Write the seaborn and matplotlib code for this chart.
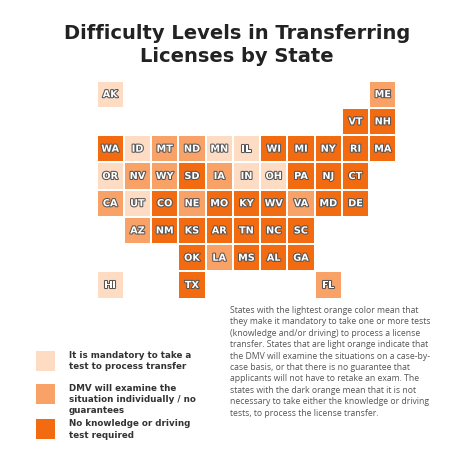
import numpy as np
import pandas as pd
import seaborn as sns
import matplotlib.pyplot as plt
import matplotlib.patheffects as pe
from matplotlib.colors import ListedColormap
from matplotlib.patches import Rectangle

# tile-grid map: state, row, col, difficulty (0 test required, 1 case by case, 2 no test)
states = ["AK", "ME", "VT", "NH",
          "WA", "ID", "MT", "ND", "MN", "IL", "WI", "MI", "NY", "RI", "MA",
          "OR", "NV", "WY", "SD", "IA", "IN", "OH", "PA", "NJ", "CT",
          "CA", "UT", "CO", "NE", "MO", "KY", "WV", "VA", "MD", "DE",
          "AZ", "NM", "KS", "AR", "TN", "NC", "SC",
          "OK", "LA", "MS", "AL", "GA",
          "HI", "TX", "FL"]
rows = [0, 0, 1, 1,
        2, 2, 2, 2, 2, 2, 2, 2, 2, 2, 2,
        3, 3, 3, 3, 3, 3, 3, 3, 3, 3,
        4, 4, 4, 4, 4, 4, 4, 4, 4, 4,
        5, 5, 5, 5, 5, 5, 5,
        6, 6, 6, 6, 6,
        7, 7, 7]
cols = [0, 10, 9, 10,
        0, 1, 2, 3, 4, 5, 6, 7, 8, 9, 10,
        0, 1, 2, 3, 4, 5, 6, 7, 8, 9,
        0, 1, 2, 3, 4, 5, 6, 7, 8, 9,
        1, 2, 3, 4, 5, 6, 7,
        3, 4, 5, 6, 7,
        0, 3, 8]
level = [0, 1, 2, 2,
         2, 0, 1, 1, 0, 0, 2, 2, 2, 2, 2,
         0, 1, 1, 2, 1, 0, 0, 2, 2, 2,
         1, 0, 2, 1, 2, 2, 2, 1, 2, 2,
         1, 2, 2, 2, 2, 2, 2,
         2, 1, 2, 2, 2,
         0, 2, 1]

legend_labels = ["It is mandatory to take a\ntest to process transfer",
                 "DMV will examine the\nsituation individually / no\nguarantees",
                 "No knowledge or driving\ntest required"]
colors = ["#fddcc3", "#f9a267", "#f26b10"]
note = ("States with the lightest orange color mean that\n"
        "they make it mandatory to take one or more tests\n"
        "(knowledge and/or driving) to process a license\n"
        "transfer. States that are light orange indicate that\n"
        "the DMV will examine the situations on a case-by-\n"
        "case basis, or that there is no guarantee that\n"
        "applicants will not have to retake an exam. The\n"
        "states with the dark orange mean that it is not\n"
        "necessary to take either the knowledge or driving\n"
        "tests, to process the license transfer.")

df = pd.DataFrame({"state": states, "row": rows, "col": cols, "level": level})
grid = df.pivot(index="row", columns="col", values="level")
labels = df.pivot(index="row", columns="col", values="state").fillna("")

fig = plt.figure(figsize=(4.74, 4.74), dpi=100)
fig.text(0.5, 0.95, "Difficulty Levels in Transferring\nLicenses by State", ha="center", va="top",
         fontsize=14, fontweight="bold", color="#222222", family="DejaVu Sans", linespacing=1.3)

ax = fig.add_axes([0.11, 0.37, 0.82, 0.46])
sns.heatmap(grid, cmap=ListedColormap(colors), vmin=-0.5, vmax=2.5, annot=labels, fmt="",
            cbar=False, linewidths=1.2, linecolor="white", square=True, ax=ax,
            annot_kws={"fontsize": 7, "fontweight": "bold", "color": "white",
                       "path_effects": [pe.withStroke(linewidth=1.5, foreground="#555555")]})
ax.set_axis_off()

for i, (lab, c) in enumerate(zip(legend_labels, colors)):
    y = 0.24 - i * 0.07 - (0.005 if i == 2 else 0)
    fig.patches.append(Rectangle((0.075, y - 0.022), 0.042, 0.042, transform=fig.transFigure,
                                 facecolor=c, edgecolor="none"))
    fig.text(0.145, y + 0.02, lab, va="top", fontsize=6.3, fontweight="bold", color="#333333",
             family="DejaVu Sans", linespacing=1.3)

fig.text(0.485, 0.355, note, va="top", fontsize=6.2, color="#555555", family="Open Sans", linespacing=1.35)

fig.savefig("out.png", dpi=100, facecolor="white")
